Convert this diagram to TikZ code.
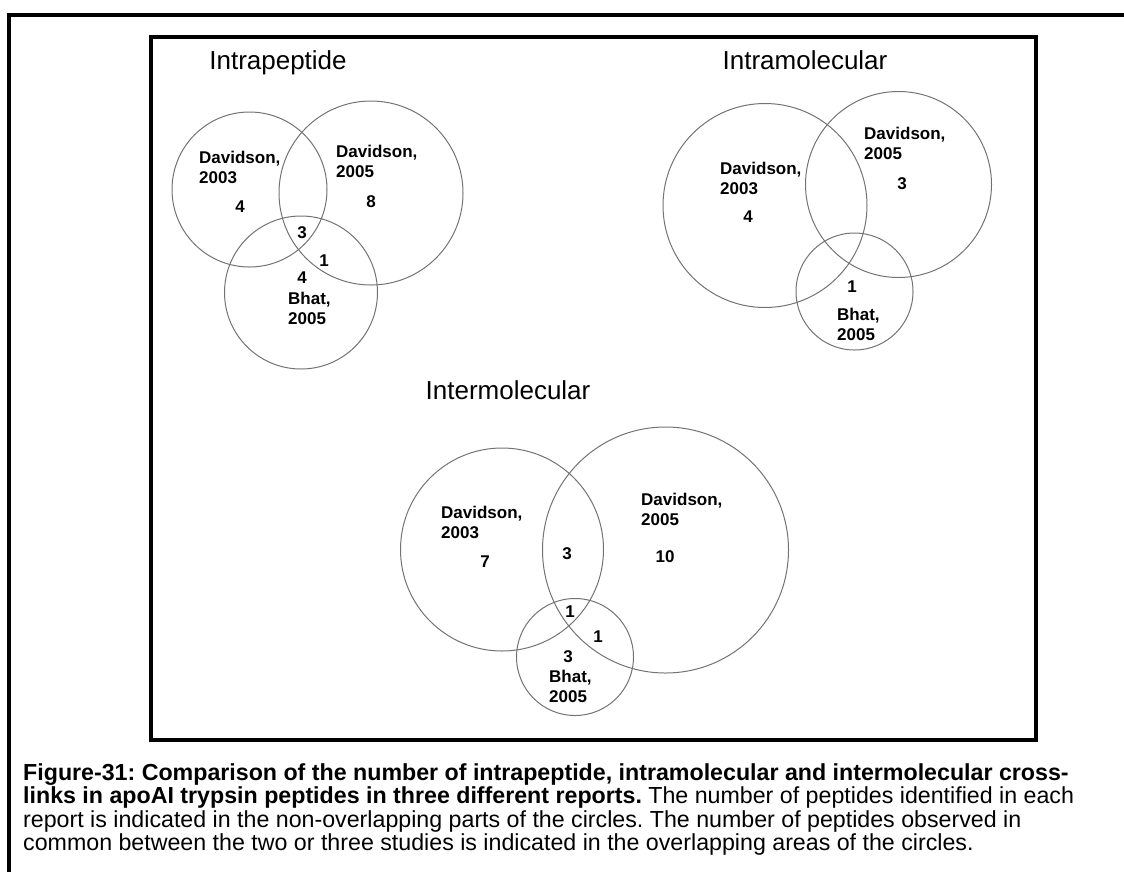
\documentclass[tikz,border=0pt]{standalone}
\usepackage{fontspec}
\setmainfont{Liberation Sans}
\definecolor{ring}{gray}{0.45}

\begin{document}
\frenchspacing
\begin{tikzpicture}[x=1pt,y=-1pt,
    venn/.style={circle,draw=ring,line width=1pt,inner sep=0pt,minimum size=#1},
    tag/.style={inner sep=0pt,align=left,font=\fontsize{17}{20}\selectfont\bfseries},
    head/.style={inner sep=0pt,font=\fontsize{26}{30}\selectfont},
    captext/.style={inner sep=0pt,anchor=base west,font=\fontsize{23.2}{26}\selectfont}]
    \useasboundingbox (0,0) rectangle (1124,871);
    \draw[line width=4pt] (9,880) -- (9,14.5) -- (1135,14.5);
    \draw[line width=4pt] (151,37) rectangle (1036,740);

    % intrapeptide
    \node[head] (ptitle) at (278,63) {Intrapeptide};
    \foreach \x/\y/\r [count=\i from 1] in {249.5/189.5/77.5,371/193/92,301/292.5/76.5}
      {\node[venn=2*\r] (p\i) at (\x,\y) {};}
    \node[tag,anchor=west] (pdav3) at (199,167.5) {Davidson,\\2003};
    \node[tag,anchor=west] (pdav5) at (336,161) {Davidson,\\2005};
    \node[tag,anchor=west] (pbhat) at (288,308) {Bhat,\\2005};
    \foreach \x/\y/\n [count=\i from 1] in {240/207/4,371/202/8,302/233/3,324/261/1,302/278/4}
      {\node[tag] (pn\i) at (\x,\y) {\n};}

    % intramolecular
    \node[head] (mtitle) at (805,60) {Intramolecular};
    \foreach \x/\y/\r [count=\i from 1] in {765/205.5/102,898.5/184.5/93,854.5/291.5/58.5}
      {\node[venn=2*\r] (m\i) at (\x,\y) {};}
    \node[tag,anchor=west] (mdav3) at (720,178) {Davidson,\\2003};
    \node[tag,anchor=west] (mdav5) at (864,143.5) {Davidson,\\2005};
    \node[tag,anchor=west] (mbhat) at (837,324.5) {Bhat,\\2005};
    \foreach \x/\y/\n [count=\i from 1] in {748/217/4,902/184/3,852/287/1}
      {\node[tag] (mn\i) at (\x,\y) {\n};}

    % intermolecular
    \node[head] (etitle) at (508,390) {Intermolecular};
    \foreach \x/\y/\r [count=\i from 1] in {502/549.5/101.5,665.5/550/123,575/657/58.5}
      {\node[venn=2*\r] (e\i) at (\x,\y) {};}
    \node[tag,anchor=west] (edav3) at (441,522.5) {Davidson,\\2003};
    \node[tag,anchor=west] (edav5) at (641,509.5) {Davidson,\\2005};
    \node[tag,anchor=west] (ebhat) at (549,686) {Bhat,\\2005};
    \foreach \x/\y/\n [count=\i from 1] in {485/562/7,567/554/3,665/557/10,570/612/1,598/637/1,568/657/3}
      {\node[tag] (en\i) at (\x,\y) {\n};}

    % caption
    \node[captext] (cap1) at (23,780) {\bfseries Figure-31: Comparison of the number of intrapeptide, intramolecular and intermolecular cross-};
    \node[captext] (cap2) at (23,803.5) {\textbf{links in apoAI trypsin peptides in three different reports.} The number of peptides identified in each};
    \node[captext] (cap3) at (23,827) {report is indicated in the non-overlapping parts of the circles. The number of peptides observed in};
    \node[captext] (cap4) at (23,850.5) {common between the two or three studies is indicated in the overlapping areas of the circles.};
\end{tikzpicture}
\end{document}
